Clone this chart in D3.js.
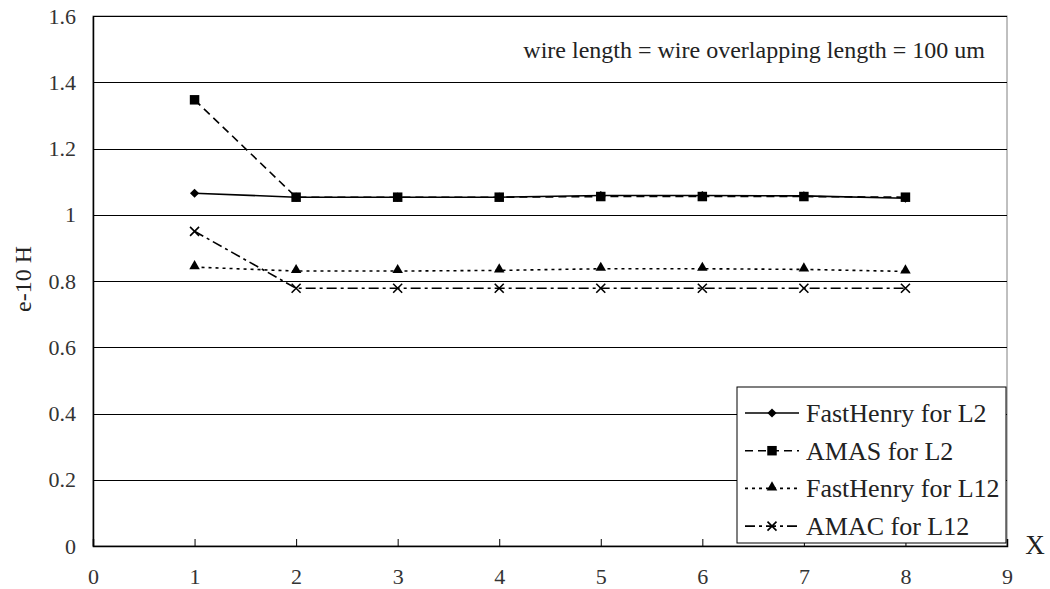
<!DOCTYPE html>
<html>
<head>
<meta charset="utf-8">
<script src="https://cdn.jsdelivr.net/npm/d3@7"></script>
<style>
  body { margin: 0; background: #fff; }
</style>
</head>
<body>
<div id="chart"></div>
<script>
// values (units: e-10 H)
var xValues = [1, 2, 3, 4, 5, 6, 7, 8];
var fastHenryL2 = [1.065, 1.053, 1.053, 1.053, 1.058, 1.058, 1.057, 1.050];
var amasL2 = [1.347, 1.053, 1.053, 1.053, 1.055, 1.055, 1.055, 1.053];
var fastHenryL12 = [0.842, 0.830, 0.830, 0.832, 0.837, 0.837, 0.835, 0.829];
var amacL12 = [0.950, 0.778, 0.778, 0.778, 0.778, 0.778, 0.778, 0.778];
var seriesNames = ["FastHenry for L2", "AMAS for L2", "FastHenry for L12", "AMAC for L12"];
var xTicks = [0, 1, 2, 3, 4, 5, 6, 7, 8, 9];
var yTicks = [0, 0.2, 0.4, 0.6, 0.8, 1, 1.2, 1.4, 1.6];

var FONT = "'Liberation Serif', 'DejaVu Serif', serif";
var W = 1050, H = 589;
var margin = {top: 16, right: 43, bottom: 43, left: 93};
var width = W - margin.left - margin.right,
    height = H - margin.top - margin.bottom;

var svg = d3.select("#chart").append("svg")
  .attr("width", W)
  .attr("height", H)
  .style("display", "block");

var g = svg.append("g")
  .attr("transform", "translate(" + margin.left + "," + margin.top + ")");

var x = d3.scaleLinear().domain([0, 9]).range([0, width]);
var y = d3.scaleLinear().domain([0, 1.6]).range([height, 0]);

// plot border (right side shows in gray)
g.append("rect")
  .attr("width", width).attr("height", height)
  .attr("fill", "none").attr("stroke", "#808080").attr("stroke-width", 1);

// gridlines
g.selectAll(".grid")
  .data(yTicks.filter(function(d){ return d > 0; }))
  .enter().append("line")
  .attr("class", "grid")
  .attr("x1", 0).attr("x2", width)
  .attr("y1", function(d){ return Math.round(y(d)) + 0.5; })
  .attr("y2", function(d){ return Math.round(y(d)) + 0.5; })
  .attr("stroke", "#000").attr("stroke-width", 1);

var xAxis = g.append("g")
  .attr("transform", "translate(0," + height + ")")
  .call(d3.axisBottom(x).tickValues(xTicks).tickSize(-7).tickPadding(22).tickFormat(d3.format("d")));
xAxis.attr("font-family", null).attr("font-size", null);
xAxis.select(".domain").attr("stroke", "#000").attr("stroke-width", 1.5);
xAxis.selectAll("text").style("font-family", FONT).style("font-size", "22px").attr("fill", "#333");

var yAxis = g.append("g")
  .call(d3.axisLeft(y).tickValues(yTicks).tickSize(0).tickPadding(17).tickFormat(function(d){ return d; }));
yAxis.attr("font-family", null).attr("font-size", null);
yAxis.select(".domain").attr("stroke", "#000").attr("stroke-width", 1.5);
yAxis.selectAll("text").style("font-family", FONT).style("font-size", "22px").attr("fill", "#333");

// axis titles
svg.append("text")
  .attr("transform", "translate(31," + 279 + ") rotate(-90)")
  .attr("text-anchor", "middle")
  .style("font-family", FONT).style("font-size", "24px").attr("fill", "#222")
  .text("e-10 H");

svg.append("text")
  .attr("x", 1035).attr("y", 554)
  .attr("text-anchor", "middle")
  .style("font-family", FONT).style("font-size", "27px").attr("fill", "#222")
  .text("X");

svg.append("text")
  .attr("x", 985).attr("y", 58)
  .attr("text-anchor", "end")
  .style("font-family", FONT).style("font-size", "24px").attr("fill", "#222")
  .text("wire length = wire overlapping length = 100 um");

// series
var xPath = function(s) {
  return "M" + (-s) + "," + (-s) + "L" + s + "," + s + "M" + (-s) + "," + s + "L" + s + "," + (-s);
};

var series = [
  {name: seriesNames[0], values: fastHenryL2, dash: null, marker: "diamond"},
  {name: seriesNames[1], values: amasL2, dash: "8,5", marker: "square"},
  {name: seriesNames[2], values: fastHenryL12, dash: "3,4", marker: "triangle"},
  {name: seriesNames[3], values: amacL12, dash: "10,4,3,4", marker: "x"}
];

function drawMarker(sel, type) {
  if (type == "diamond") {
    sel.append("path").attr("d", d3.symbol().type(d3.symbolSquare).size(42)())
      .attr("fill", "#000").attr("transform", "rotate(45)");
  } else if (type == "square") {
    sel.append("path").attr("d", d3.symbol().type(d3.symbolSquare).size(90)()).attr("fill", "#000");
  } else if (type == "triangle") {
    sel.append("path").attr("d", d3.symbol().type(d3.symbolTriangle).size(48)())
      .attr("transform", "translate(0,-1)").attr("fill", "#000");
  } else {
    sel.append("path").attr("d", xPath(4.5)).attr("fill", "none")
      .attr("stroke", "#000").attr("stroke-width", 1.6);
  }
}

var line = d3.line()
  .x(function(d, i){ return x(xValues[i]); })
  .y(function(d){ return y(d); });

series.forEach(function(s) {
  g.append("path")
    .datum(s.values)
    .attr("d", line)
    .attr("fill", "none")
    .attr("stroke", "#000")
    .attr("stroke-width", 1.6)
    .attr("stroke-dasharray", s.dash);
});

series.forEach(function(s) {
  s.values.forEach(function(v, i) {
    var m = g.append("g").attr("transform", "translate(" + x(xValues[i]) + "," + y(v) + ")");
    drawMarker(m, s.marker);
  });
});

// legend
var legend = svg.append("g").attr("transform", "translate(737,387)");
legend.append("rect")
  .attr("width", 269).attr("height", 156)
  .attr("fill", "#fff").attr("stroke", "#000").attr("stroke-width", 1);

series.forEach(function(s, i) {
  var row = legend.append("g").attr("transform", "translate(0," + (26 + i * 37.7) + ")");
  row.append("line")
    .attr("x1", 8).attr("x2", 62).attr("y1", 0).attr("y2", 0)
    .attr("stroke", "#000").attr("stroke-width", 1.6)
    .attr("stroke-dasharray", s.dash);
  var m = row.append("g").attr("transform", "translate(35,0)");
  drawMarker(m, s.marker);
  row.append("text")
    .attr("x", 69).attr("y", 9)
    .style("font-family", FONT).style("font-size", "26px").attr("fill", "#222")
    .text(s.name);
});
</script>
</body>
</html>
